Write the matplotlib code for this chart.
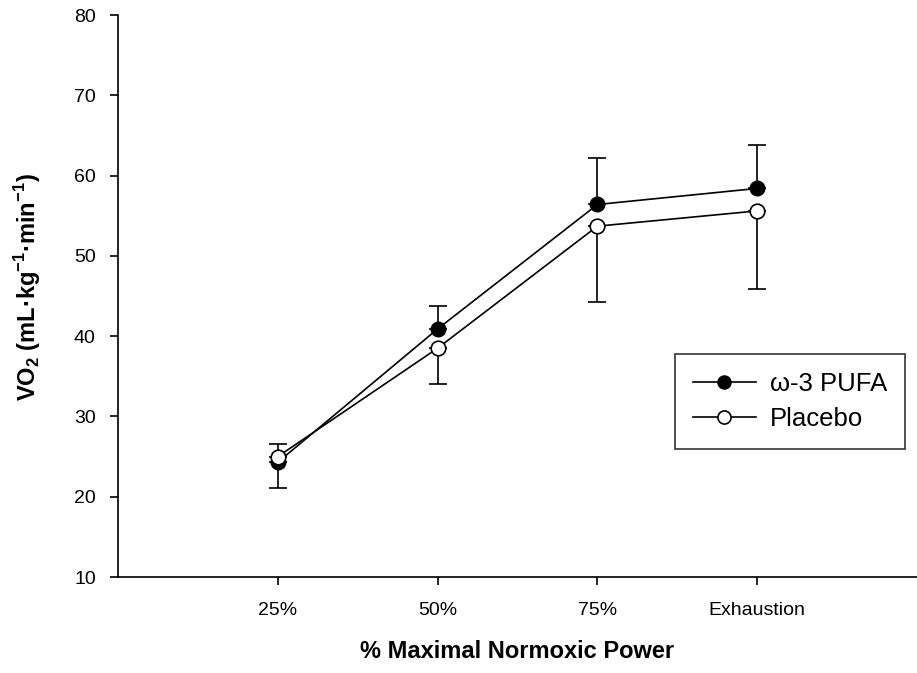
import matplotlib.pyplot as plt

plt.rcParams['font.family'] = ['Liberation Sans', 'DejaVu Sans']
plt.rcParams['mathtext.fontset'] = 'custom'
plt.rcParams['mathtext.rm'] = 'Liberation Sans:bold'
plt.rcParams['mathtext.bf'] = 'Liberation Sans:bold'

# exercise stages and group means / SD
stages = ['25%', '50%', '75%', 'Exhaustion']
pufa_mean = [24.3, 40.9, 56.4, 58.4]
pufa_sd = [2.3, 2.8, 5.8, 5.4]
placebo_mean = [25.0, 38.5, 53.7, 55.6]
placebo_sd = [3.9, 4.4, 9.5, 9.7]

x = list(range(1, len(stages) + 1))

fig = plt.figure(figsize=(9.17, 6.73), dpi=100)
ax = fig.add_axes([0.1287, 0.1426, 0.8713, 0.8351])

# PUFA shows upper bars, placebo lower bars
ax.errorbar(x, pufa_mean, yerr=[[0] * 4, pufa_sd], color='black', lw=1.2,
            marker='o', ms=10.5, mfc='black', mec='black', capsize=6.5,
            elinewidth=1.2, capthick=1.2, label='ω-3 PUFA', zorder=3)
ax.errorbar(x, placebo_mean, yerr=[placebo_sd, [0] * 4], color='black', lw=1.2,
            marker='o', ms=10.5, mfc='white', mec='black', mew=1.2, capsize=6.5,
            elinewidth=1.2, capthick=1.2, label='Placebo', zorder=4)

ax.set_xlim(0, 5)
ax.set_ylim(10, 80)
ax.set_xticks(x)
ax.set_xticklabels(stages)
ax.set_yticks(range(10, 81, 10))

for side in ['top', 'right']:
    ax.spines[side].set_visible(False)
for side in ['left', 'bottom']:
    ax.spines[side].set_linewidth(1.2)
ax.tick_params(axis='both', direction='out', length=6, width=1.2, labelsize=14)
ax.tick_params(axis='x', pad=12)
ax.tick_params(axis='y', pad=10)

ax.set_xlabel('% Maximal Normoxic Power', fontsize=17, fontweight='bold')
ax.set_ylabel(r'VO$_\mathbf{2}$ (mL·kg$^{\mathbf{-1}}$·min$^{\mathbf{-1}}$)',
              fontsize=17, fontweight='bold')
ax.xaxis.set_label_coords(0.5, -0.112)
ax.yaxis.set_label_coords(-0.094, 0.515)

handles, labels = ax.get_legend_handles_labels()
handles = [h[0] for h in handles]
leg = ax.legend(handles, labels, loc='upper left', bbox_to_anchor=(0.7361, 0.474),
                bbox_transform=fig.transFigure, fontsize=18.5, frameon=True,
                fancybox=False, edgecolor='black', handlelength=2.45,
                handletextpad=0.55, borderpad=0.7, borderaxespad=0,
                labelspacing=0.42, markerscale=0.9)
leg.get_frame().set_linewidth(1.2)

fig.savefig('out.png', dpi=100)
